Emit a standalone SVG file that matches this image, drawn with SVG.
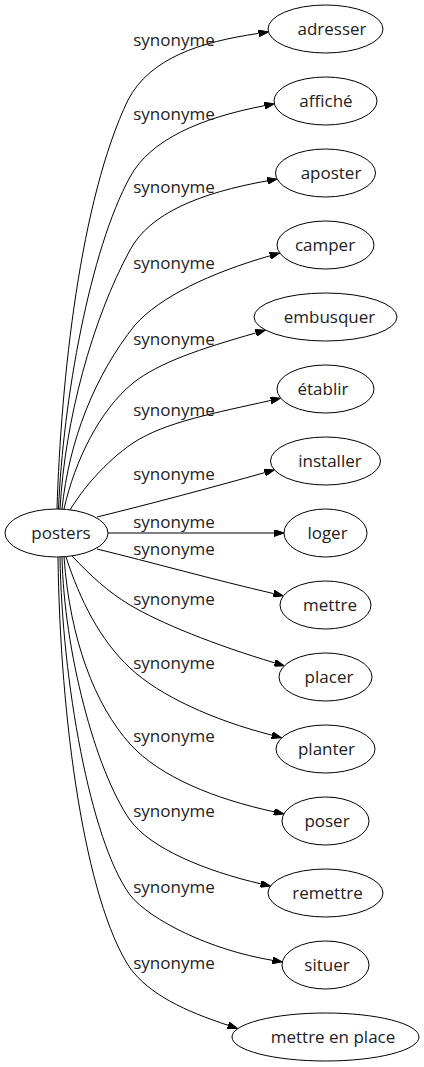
<svg xmlns="http://www.w3.org/2000/svg" width="424" height="1067" viewBox="0 0 424 1067">
<defs>
<style>
.n ellipse{fill:#fff;stroke:#000;stroke-width:1}
.n text,.l text{font-family:"Open Sans","DejaVu Sans",sans-serif;font-size:17px;fill:#222;text-anchor:middle}
.e path{fill:none;stroke:#000;stroke-width:1;marker-end:url(#ah)}
</style>
<marker id="ah" viewBox="0 0 10 7" refX="0" refY="3.5" markerWidth="10" markerHeight="7" markerUnits="userSpaceOnUse" orient="auto">
<path d="M0,0 L10,3.5 L0,7 z" fill="#000" stroke="#000" stroke-width="1"/>
</marker>
</defs>
<rect width="424" height="1067" fill="#fff"/>
<g id="edges" class="e">
<path d="M57,509 C61,380 80,200 128,100 C150,58 200,42 258.5,33.4"/>
<path d="M58.5,509 C63,400 90,250 130,177 C150,140 200,118 264.5,105.7"/>
<path d="M60,509 C65,420 92,320 130,250 C150,213 200,193 267.3,180.8"/>
<path d="M62,509 C69,440 95,375 135,325 C160,297 210,273 270,255.8"/>
<path d="M64,509 C75,460 100,410 133,383 C160,362 200,349 255.8,332.9"/>
<path d="M70,510 C82,490 105,462 133,443 C165,422 215,413 270.8,400.4"/>
<path d="M97,517 C150,504 210,488 264.8,472.6"/>
<path d="M108,533 L274,533"/>
<path d="M97,549 C150,562 215,580 273.6,593.6"/>
<path d="M72,556 C90,575 108,592 130,605 C160,623 215,645 274.7,662.9"/>
<path d="M66,557 C80,600 100,640 130,668 C160,696 213,720 271.9,735.2"/>
<path d="M64,557 C70,640 95,705 130,744 C160,777 215,799 274.1,811.8"/>
<path d="M62,557 C64,650 95,770 130,820 C150,848 205,871 260.8,883.8"/>
<path d="M60,557 C62,680 90,840 130,895 C150,920 210,950 272.4,960.3"/>
<path d="M58,557 C60,720 85,900 130,968 C150,995 185,1011 228.1,1025.3"/>
</g>
<g id="labels" class="l">
<text x="174" y="46">synonyme</text>
<text x="174" y="120">synonyme</text>
<text x="174" y="193">synonyme</text>
<text x="174" y="269">synonyme</text>
<text x="174" y="345">synonyme</text>
<text x="174" y="416">synonyme</text>
<text x="174" y="480">synonyme</text>
<text x="174" y="528">synonyme</text>
<text x="174" y="555">synonyme</text>
<text x="174" y="605">synonyme</text>
<text x="174" y="669">synonyme</text>
<text x="174" y="742">synonyme</text>
<text x="174" y="817">synonyme</text>
<text x="174" y="893">synonyme</text>
<text x="174" y="969">synonyme</text>
</g>
<g id="posters" class="n"><ellipse cx="56.5" cy="533" rx="51.5" ry="24"/><text x="61" y="539">posters</text></g>
<g id="adresser" class="n"><ellipse cx="325.5" cy="29" rx="57.5" ry="24"/><text x="332" y="35">adresser</text></g>
<g id="affiche" class="n"><ellipse cx="325.5" cy="101" rx="51.5" ry="24"/><text x="326" y="107">affiché</text></g>
<g id="aposter" class="n"><ellipse cx="325.5" cy="173" rx="50" ry="24"/><text x="331" y="179">aposter</text></g>
<g id="camper" class="n"><ellipse cx="325.5" cy="245" rx="48.5" ry="24"/><text x="325" y="251">camper</text></g>
<g id="embusquer" class="n"><ellipse cx="325.5" cy="317" rx="71.5" ry="24"/><text x="329.5" y="323">embusquer</text></g>
<g id="etablir" class="n"><ellipse cx="325.5" cy="389" rx="48.5" ry="24"/><text x="323" y="395">établir</text></g>
<g id="installer" class="n"><ellipse cx="325.5" cy="461" rx="55" ry="24"/><text x="330" y="467">installer</text></g>
<g id="loger" class="n"><ellipse cx="325.5" cy="533" rx="41.5" ry="24"/><text x="327.5" y="539">loger</text></g>
<g id="mettre" class="n"><ellipse cx="325.5" cy="605" rx="45.5" ry="24"/><text x="330" y="611">mettre</text></g>
<g id="placer" class="n"><ellipse cx="325.5" cy="677" rx="46.5" ry="24"/><text x="329" y="683">placer</text></g>
<g id="planter" class="n"><ellipse cx="325.5" cy="749" rx="49.5" ry="24"/><text x="326.5" y="755">planter</text></g>
<g id="poser" class="n"><ellipse cx="325.5" cy="821" rx="43.5" ry="24"/><text x="327" y="827">poser</text></g>
<g id="remettre" class="n"><ellipse cx="325.5" cy="893" rx="57.5" ry="24"/><text x="327.5" y="899">remettre</text></g>
<g id="situer" class="n"><ellipse cx="325.5" cy="965" rx="43.5" ry="24"/><text x="327" y="971">situer</text></g>
<g id="mettre_en_place" class="n"><ellipse cx="325.5" cy="1037" rx="93.5" ry="24"/><text x="333" y="1043">mettre en place</text></g>
</svg>
